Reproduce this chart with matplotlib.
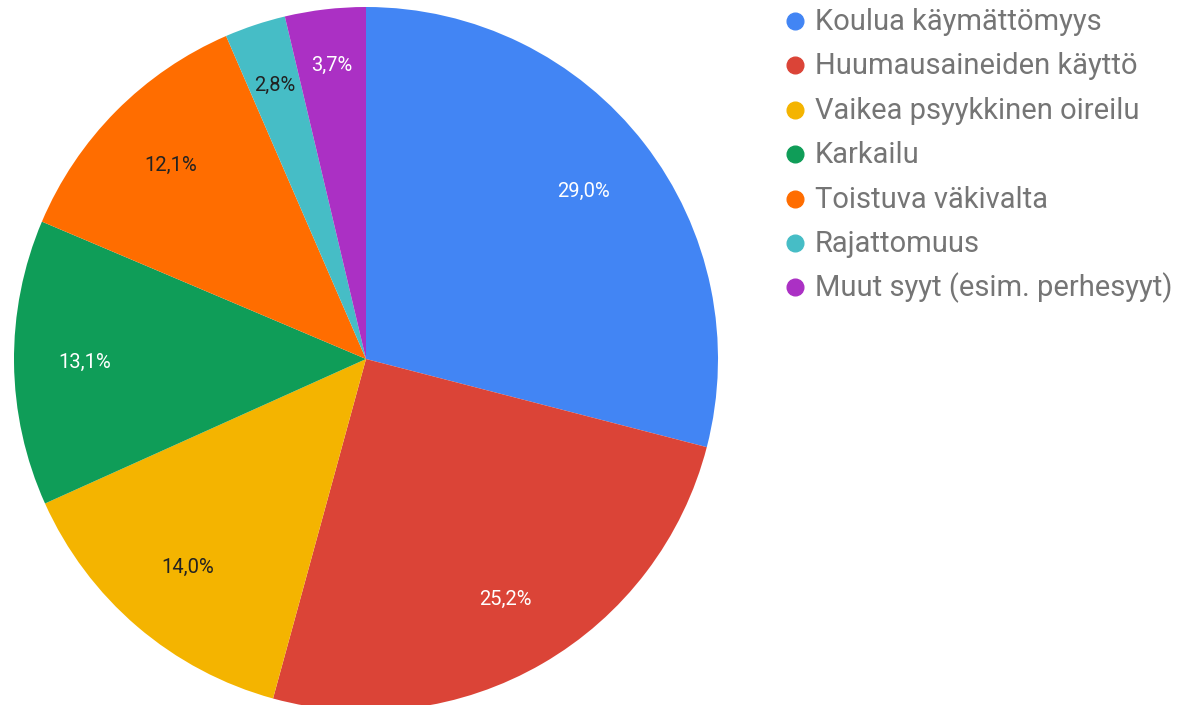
import matplotlib
matplotlib.use("Agg")
import matplotlib.pyplot as plt
from matplotlib.lines import Line2D
import numpy as np

plt.rcParams['font.family'] = ['Roboto', 'DejaVu Sans']

categories = ["Koulua käymättömyys", "Huumausaineiden käyttö", "Vaikea psyykkinen oireilu",
              "Karkailu", "Toistuva väkivalta", "Rajattomuus", "Muut syyt (esim. perhesyyt)"]
values = [29.0, 25.2, 14.0, 13.1, 12.1, 2.8, 3.7]
labels = ["29,0%", "25,2%", "14,0%", "13,1%", "12,1%", "2,8%", "3,7%"]

colors = ["#4285F4", "#DB4437", "#F4B400", "#0F9D58", "#FF6D00", "#46BDC6", "#AB30C4"]
label_colors = ["white", "white", "#222222", "white", "#222222", "#222222", "white"]
label_dist = [0.78, 0.79, 0.78, 0.80, 0.78, 0.82, 0.84]

W, H = 1189, 705
fig = plt.figure(figsize=(W / 100, H / 100), dpi=100)
cx, cy, r = 366, 359, 352
ax = fig.add_axes([(cx - r) / W, (H - cy - r) / H, 2 * r / W, 2 * r / H])

wedges, _ = ax.pie(values, colors=colors, startangle=90, counterclock=False,
                   radius=1, wedgeprops=dict(linewidth=0))
ax.set_xlim(-1, 1)
ax.set_ylim(-1, 1)
ax.set_aspect('equal')
ax.axis('off')
for w, lab, lc, d in zip(wedges, labels, label_colors, label_dist):
    ang = np.deg2rad((w.theta1 + w.theta2) / 2)
    ax.text(d * np.cos(ang), d * np.sin(ang), lab, color=lc, fontsize=14.5,
            ha='center', va='center')

# legend
x_dot, x_txt, y0, dy = 795, 815, 30, 44.4
for i, (cat, col) in enumerate(zip(categories, colors)):
    yb = y0 + i * dy
    fig.add_artist(Line2D([x_dot / W], [1 - (yb - 9) / H], marker='o', color=col,
                          markersize=12, linestyle='none', transform=fig.transFigure))
    fig.text(x_txt / W, 1 - yb / H, cat, fontsize=21, color='#757575',
             ha='left', va='baseline')

fig.savefig("out.png", dpi=100)
